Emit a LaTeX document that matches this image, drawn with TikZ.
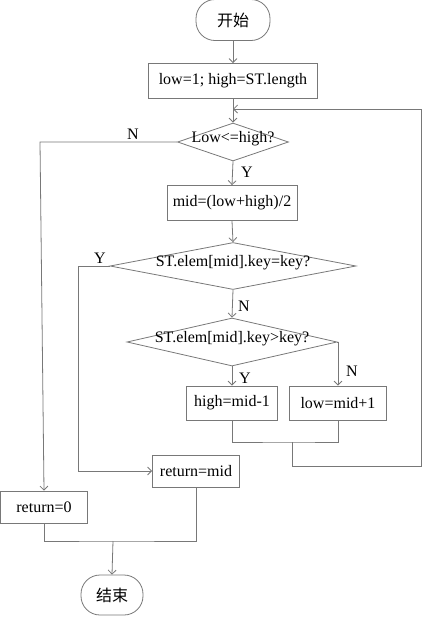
\documentclass[tikz,border=0pt]{standalone}
\usepackage{fontspec}
\setmainfont{Liberation Serif}
\newfontfamily\cjk{Noto Sans CJK SC}
\usetikzlibrary{shapes.geometric,arrows.meta}
\definecolor{trait}{RGB}{120,120,120}

\begin{document}
\begin{tikzpicture}[x=1pt,y=-1pt,thick,draw=trait,
   line width=0.8pt,>={Straight Barb[length=4pt,width=8pt]},
   font=\fontsize{16}{19}\selectfont,
   boite action/.style={rectangle,draw=trait,inner sep=0pt},
   boite test/.style={diamond,draw=trait,inner sep=0pt},
   boite borne/.style={rectangle,rounded corners=19pt,draw=trait,inner sep=0pt},
   reponse/.style={inner sep=0pt}]

  \useasboundingbox (0,0) rectangle (431,619);

  \node[boite borne,minimum width=74pt,minimum height=41pt](debut) at (233,20) {\cjk 开始};
  \node[boite action,minimum width=169pt,minimum height=35pt](init) at (233,81) {low=1; high=ST.length\hspace{12pt}};
  \node[boite test,minimum width=111pt,minimum height=38pt](test1) at (233,142) {\smash{\makebox[0pt]{Low<=high?}}};
  \node[boite action,minimum width=130pt,minimum height=35pt](mid) at (232,203) {mid=(low+high)/2};
  \node[boite test,minimum width=246pt,minimum height=47pt](test2) at (233,266) {\smash{\makebox[0pt]{ST.elem[mid].key=key?}}};
  \node[boite test,minimum width=210pt,minimum height=48pt](test3) at (232,342) {\smash{\makebox[0pt]{ST.elem[mid].key>key?}}};
  \node[boite action,minimum width=91pt,minimum height=34pt](high) at (232,403) {high=mid-1};
  \node[boite action,minimum width=97pt,minimum height=34pt](low) at (338,403) {low=mid+1};
  \node[boite action,minimum width=87pt,minimum height=32pt](retmid) at (196,471) {return=mid};
  \node[boite action,minimum width=87pt,minimum height=32pt](retzero) at (44,507) {return=0};
  \node[boite borne,minimum width=62pt,minimum height=40pt](fin) at (112,595) {\cjk 结束};

  \coordinate (retour) at (233,109);
  \coordinate (jonction) at (292,442);
  \coordinate (sortie) at (113,541);

  % liens droits
  \foreach \from/\to in {debut/init,init/test1,test1/mid,mid/test2,test2/test3,test3/high}
    \draw[->] (\from.south) -- (\to.north);

  % branches
  \draw[->] (test1.west) -- (40,142) -- (retzero.north);
  \draw[->] (test2.west) -- (78,266) |- (retmid.west);
  \draw[->] (test3.east) -| (low.north);
  \draw (high.south) |- (jonction) -| (low.south);
  \draw[->] (jonction) -- (292,466) -- (421,466) -- (421,109) -- (retour);
  \draw (retzero.south) |- (sortie) -| (retmid.south);
  \draw[->] (sortie) -- (fin.north);

  \node[reponse](n1) at (133,134) {N};
  \node[reponse](y1) at (247,172) {Y};
  \node[reponse](y2) at (100,258) {Y};
  \node[reponse](n2) at (244,306) {N};
  \node[reponse](y3) at (245,378) {Y};
  \node[reponse](n3) at (352,371) {N};
\end{tikzpicture}
\end{document}
